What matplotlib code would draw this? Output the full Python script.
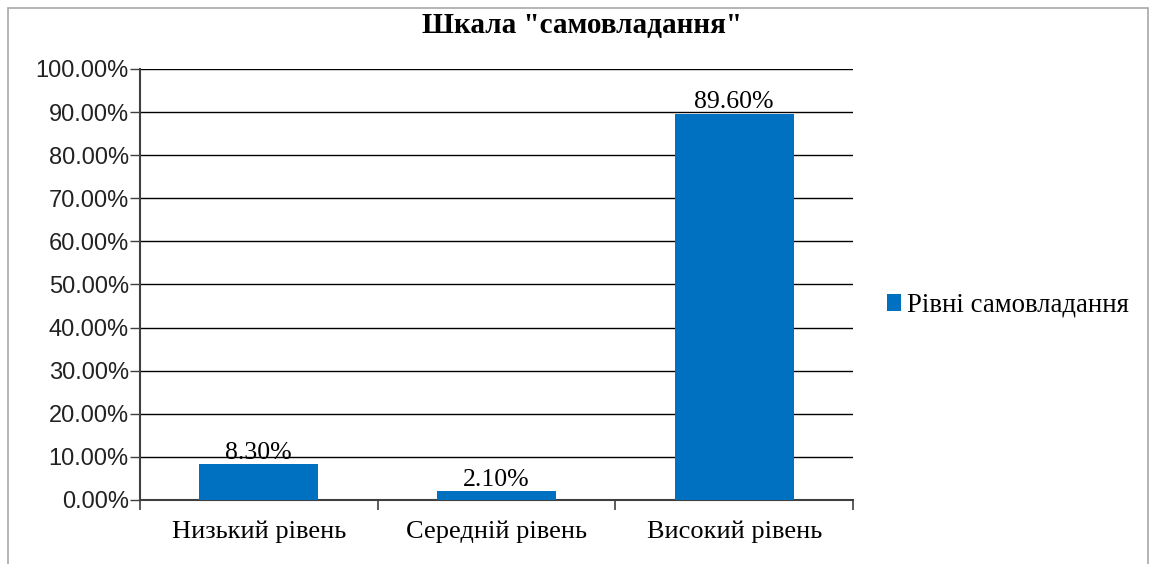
import matplotlib.pyplot as plt
from matplotlib.patches import Rectangle
from matplotlib.ticker import FuncFormatter, FixedLocator

# Chart data
categories = ['Низький рівень', 'Середній рівень', 'Високий рівень']
values = [8.3, 2.1, 89.6]
series_name = 'Рівні самовладання'
title = 'Шкала "самовладання"'

BAR_COLOR = '#0070C0'
SERIF = ['Liberation Serif', 'DejaVu Serif']
SANS = ['Liberation Sans', 'DejaVu Sans']


def main():
    fig = plt.figure(figsize=(11.53, 5.64), dpi=100)
    ax = fig.add_axes([0.1214, 0.1135, 0.6184, 0.7642])

    # Outer chart frame
    fig.patches.append(Rectangle((0.007, -0.01), 0.989, 0.996, transform=fig.transFigure,
                                 fill=False, edgecolor='#a8a8a8', linewidth=1.2))

    x = range(len(categories))
    bars = ax.bar(x, values, width=0.5, color=BAR_COLOR, label=series_name, zorder=3)

    for rect, v in zip(bars, values):
        ax.text(rect.get_x() + rect.get_width() / 2, v + 0.1, f'{v:.2f}%',
                ha='center', va='bottom', fontsize=18.5, family=SERIF, zorder=4)

    ax.set_xlim(-0.5, len(categories) - 0.5)
    ax.set_ylim(0, 100)
    ax.set_yticks(range(0, 101, 10))
    ax.yaxis.set_major_formatter(FuncFormatter(lambda v, p: f'{v:.2f}%'))
    ax.grid(axis='y', color='black', linewidth=1.0, zorder=0)

    ax.set_xticks(list(x))
    ax.set_xticklabels(categories, family=SERIF, fontsize=19)
    ax.tick_params(axis='x', length=0, pad=15)
    ax.xaxis.set_minor_locator(FixedLocator([-0.5, 0.5, 1.5, 2.5]))
    ax.tick_params(axis='x', which='minor', length=7, width=1.2, color='#404040', direction='out')
    for lab in ax.get_yticklabels():
        lab.set_family(SANS)
        lab.set_fontsize(17)
    ax.tick_params(axis='y', length=7, width=1, color='#404040', pad=1, labelcolor='#222222')

    for side in ['top', 'right']:
        ax.spines[side].set_visible(False)
    ax.spines['left'].set_color('#404040')
    ax.spines['left'].set_linewidth(1.5)
    ax.spines['bottom'].set_color('#404040')
    ax.spines['bottom'].set_linewidth(1.5)

    fig.text(0.505, 0.955, title, ha='center', va='center', fontsize=21,
             fontweight='bold', family=SERIF)

    ax.legend(loc='center left', bbox_to_anchor=(1.032, 0.452), frameon=False,
              prop={'family': SERIF, 'size': 19.3}, handlelength=0.55,
              handleheight=0.6, handletextpad=0.2, borderaxespad=0)

    fig.savefig('out.png', dpi=100)


if __name__ == '__main__':
    main()
